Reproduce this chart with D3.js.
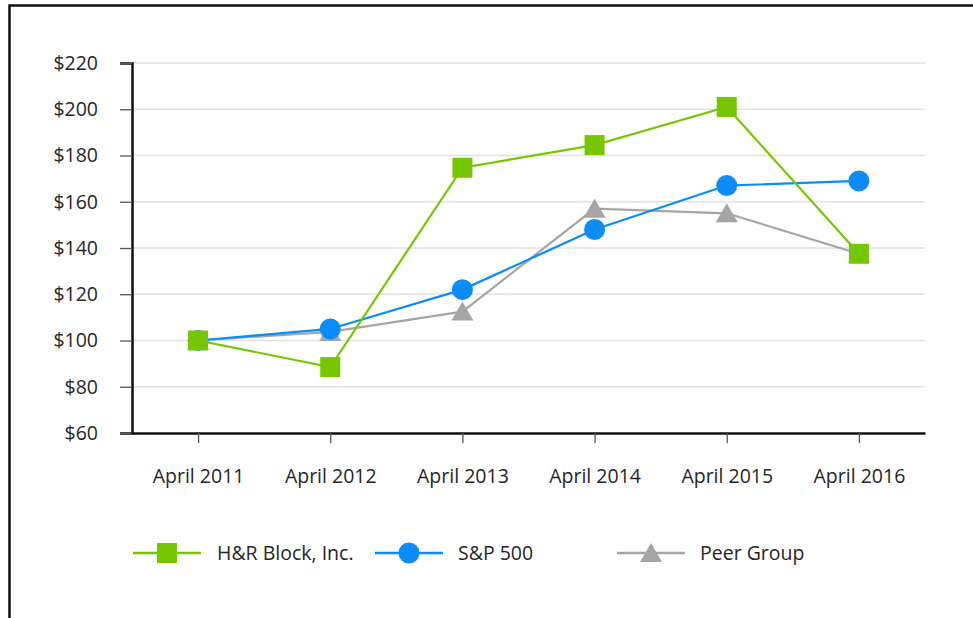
<!DOCTYPE html>
<html>
<head>
<meta charset="utf-8">
<script src="https://cdn.jsdelivr.net/npm/d3@7"></script>
<style>
  body { margin: 0; background: #fff; }
  svg text { font-family: "Open Sans", sans-serif; fill: #262626; }
</style>
</head>
<body>
<div id="chart"></div>
<script>
const years = ["April 2011", "April 2012", "April 2013", "April 2014", "April 2015", "April 2016"];
const hrBlock = [100, 88.5, 174.7, 184.5, 201, 137.5];
const sp500 = [100, 105, 122, 148, 167, 169];
const peerGroup = [100, 103.7, 112.5, 157, 155, 137.5];
const yTicks = [60, 80, 100, 120, 140, 160, 180, 200, 220];

const series = [
    { name: "Peer Group", values: peerGroup, color: "#a5a5a5", shape: "triangle" },
    { name: "S&P 500", values: sp500, color: "#0a8cfa", shape: "circle" },
    { name: "H&R Block, Inc.", values: hrBlock, color: "#76c700", shape: "square" }
];

const W = 973, H = 618;
const fontSize = 19.5;
const svg = d3.select("#chart").append("svg")
    .attr("width", W)
    .attr("height", H);

// frame (left and top edges only)
svg.append("path")
    .attr("d", `M9.5,${H} V5.5 H${W}`)
    .attr("fill", "none")
    .attr("stroke", "#111")
    .attr("stroke-width", 2.5);

const x = d3.scalePoint().domain(years).range([132, 925]).padding(0.5);
const y = d3.scaleLinear().domain([60, 220]).range([433, 63]);

// gridlines
svg.append("g")
    .selectAll("line")
    .data(yTicks.slice(1))
    .join("line")
    .attr("x1", 132).attr("x2", 925)
    .attr("y1", d => y(d)).attr("y2", d => y(d))
    .attr("stroke", "#e2e2e2")
    .attr("stroke-width", 1.5);

// y axis
const yAxis = svg.append("g")
    .attr("transform", "translate(132,0)")
    .call(d3.axisLeft(y).tickValues(yTicks).tickSize(12).tickPadding(22).tickFormat(d => "$" + d));
yAxis.select(".domain").attr("stroke", "#111").attr("stroke-width", 2.5);
yAxis.selectAll(".tick line").attr("stroke", "#555").attr("stroke-width", 1.3);
yAxis.selectAll("text").attr("font-size", fontSize).attr("fill", "#262626");

// x axis
const xAxis = svg.append("g")
    .attr("transform", "translate(0,433)")
    .call(d3.axisBottom(x).tickSize(10).tickSizeOuter(0).tickPadding(26));
xAxis.select(".domain").attr("stroke", "#111").attr("stroke-width", 2.5);
xAxis.selectAll(".tick line").attr("stroke", "#555").attr("stroke-width", 1.3);
xAxis.selectAll("text").attr("font-size", fontSize).attr("fill", "#262626");

const line = d3.line().x((d, i) => x(years[i])).y(d => y(d));

function marker(g, shape, color) {
    if (shape === "square") {
        g.append("rect").attr("x", -10).attr("y", -10).attr("width", 20).attr("height", 20).attr("fill", color);
    } else if (shape === "circle") {
        g.append("circle").attr("r", 10.5).attr("fill", color);
    } else {
        g.append("path").attr("d", "M0,-10 L11,9 L-11,9 Z").attr("fill", color);
    }
}

series.forEach(s => {
    svg.append("path")
        .datum(s.values)
        .attr("d", line)
        .attr("fill", "none")
        .attr("stroke", s.color)
        .attr("stroke-width", 2.2);
    s.values.forEach((v, i) => {
        const g = svg.append("g").attr("transform", `translate(${x(years[i])},${y(v)})`);
        marker(g, s.shape, s.color);
    });
});

// legend
const legendItems = [
    { s: series[2], x: 133, tx: 217 },
    { s: series[1], x: 375, tx: 458 },
    { s: series[0], x: 617, tx: 700 }
];
legendItems.forEach(d => {
    const g = svg.append("g").attr("transform", `translate(${d.x},553)`);
    g.append("line").attr("x1", 0).attr("x2", 68).attr("stroke", d.s.color).attr("stroke-width", 2.5);
    const m = g.append("g").attr("transform", "translate(34,0)");
    marker(m, d.s.shape, d.s.color);
    svg.append("text")
        .attr("x", d.tx).attr("y", 553)
        .attr("dy", "0.35em")
        .attr("font-size", fontSize)
        .text(d.s.name);
});
</script>
</body>
</html>
